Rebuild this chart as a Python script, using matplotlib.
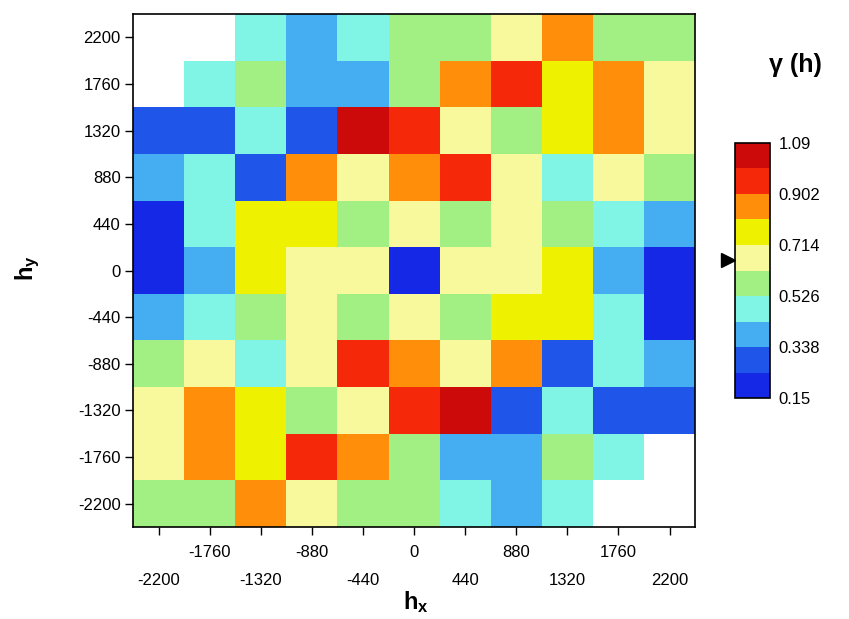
import numpy as np
import matplotlib
matplotlib.use("Agg")
import matplotlib.pyplot as plt
from matplotlib.colors import ListedColormap, BoundaryNorm

plt.rcParams['font.family'] = ['Liberation Sans', 'DejaVu Sans']
plt.rcParams['mathtext.fontset'] = 'custom'
plt.rcParams['mathtext.rm'] = 'Liberation Sans'
plt.rcParams['mathtext.bf'] = 'Liberation Sans:bold'

# lag distances (cell centres)
hx = [-2200, -1760, -1320, -880, -440, 0, 440, 880, 1320, 1760, 2200]
hy = [2200, 1760, 1320, 880, 440, 0, -440, -880, -1320, -1760, -2200]

n = np.nan
# variogram map, rows from hy=2200 (top) down to hy=-2200
gamma = [
    [n, n, .48, .39, .48, .57, .57, .67, .86, .57, .57],
    [n, .48, .57, .39, .39, .57, .86, .95, .76, .86, .67],
    [.29, .29, .48, .29, 1.04, .95, .67, .57, .76, .86, .67],
    [.39, .48, .29, .86, .67, .86, .95, .67, .48, .67, .57],
    [.20, .48, .76, .76, .57, .67, .57, .67, .57, .48, .39],
    [.20, .39, .76, .67, .67, .15, .67, .67, .76, .39, .20],
    [.39, .48, .57, .67, .57, .67, .57, .76, .76, .48, .20],
    [.57, .67, .48, .67, .95, .86, .67, .86, .29, .48, .39],
    [.67, .86, .76, .57, .67, .95, 1.04, .29, .48, .29, .29],
    [.67, .86, .76, .95, .86, .57, .39, .39, .57, .48, n],
    [.57, .57, .86, .67, .57, .57, .48, .39, .48, n, n],
]

levels = [0.15, 0.244, 0.338, 0.432, 0.526, 0.62, 0.714, 0.808, 0.902, 0.996, 1.09]
cbar_ticks = [0.15, 0.338, 0.526, 0.714, 0.902, 1.09]
cbar_labels = ['0.15', '0.338', '0.526', '0.714', '0.902', '1.09']
sill = 0.66

colors = ['#1428e6', '#1f55e8', '#45aef2', '#80f5e6', '#a2f084',
          '#f8f89c', '#eef200', '#ff8e0a', '#f5280a', '#cc0a0a']
cmap = ListedColormap(colors)
norm = BoundaryNorm(levels, cmap.N)

step = 440
x_edges = np.append(np.array(hx) - step / 2, hx[-1] + step / 2)
y_edges = np.append(np.array(hy[::-1]) - step / 2, hy[0] + step / 2)
Z = np.flipud(np.array(gamma, dtype=float))

fig = plt.figure(figsize=(8.49, 6.19), dpi=100)
ax = fig.add_axes([0.1567, 0.1486, 0.662, 0.8288])
mesh = ax.pcolormesh(x_edges, y_edges, np.ma.masked_invalid(Z), cmap=cmap, norm=norm)
ax.set_xlim(x_edges[0], x_edges[-1])
ax.set_ylim(y_edges[0], y_edges[-1])

# x labels staggered on two rows
ax.set_xticks(hx[1::2])
ax.set_xticklabels([str(v) for v in hx[1::2]])
ax.set_xticks(hx[0::2], minor=True)
ax.set_xticklabels([str(v) for v in hx[0::2]], minor=True)
ax.tick_params(axis='x', which='major', length=6, width=1, pad=7, labelsize=12)
ax.tick_params(axis='x', which='minor', length=6, width=1, pad=27, labelsize=12)
ax.set_yticks(hy)
ax.set_yticklabels([str(v) for v in hy])
ax.tick_params(axis='y', length=6, width=1, pad=3, labelsize=12)
for s in ax.spines.values():
    s.set_linewidth(1.2)

fig.text(0.49, 0.028, r'$\mathbf{h_x}$', fontsize=17, ha='center', va='center')
fig.text(0.033, 0.567, r'$\mathbf{h_y}$', fontsize=17, ha='center', va='center', rotation=90)

cax = fig.add_axes([0.8657, 0.357, 0.0412, 0.412])
cb = fig.colorbar(mesh, cax=cax, ticks=cbar_ticks)
cb.ax.minorticks_off()
cb.ax.set_yticklabels(cbar_labels)
cb.ax.tick_params(length=0, pad=6, labelsize=12)
cb.outline.set_linewidth(1.2)
cax.plot([-0.2], [sill], marker='>', color='black', markersize=10, clip_on=False,
         transform=cax.get_yaxis_transform())

fig.text(0.906, 0.895, 'γ (h)', fontsize=18, fontweight='bold', ha='left', va='center')

fig.savefig('out.png', dpi=100)
